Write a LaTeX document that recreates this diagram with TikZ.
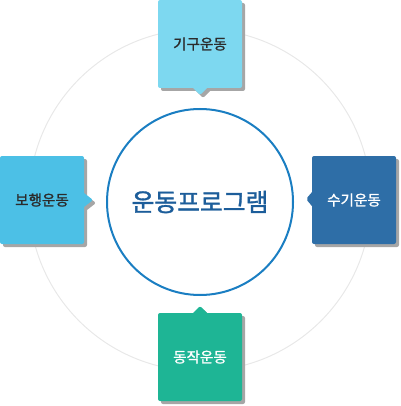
\documentclass[tikz,border=0pt]{standalone}
\usepackage{fontspec}
\setmainfont{Noto Sans CJK KR}
\newfontfamily\medfont{Noto Sans CJK KR}[FakeBold=1.3]
\usetikzlibrary{shapes.callouts,shadows}

\definecolor{ringgray}{HTML}{E8E8E8}
\definecolor{ringblue}{HTML}{1A7EC2}
\definecolor{titleblue}{HTML}{1C5D9A}
\definecolor{shadowgray}{HTML}{A6A6A6}
\definecolor{textdark}{HTML}{2B2B2B}
\definecolor{giguc}{HTML}{7DD8F0}
\definecolor{bohaengc}{HTML}{4CC0E6}
\definecolor{sugic}{HTML}{2E6EA7}
\definecolor{dongjakc}{HTML}{1EB595}

\tikzset{
  progbox/.style={rectangle callout, rounded corners=2pt,
    minimum width=84pt, minimum height=88pt, inner sep=0pt,
    callout pointer width=14pt,
    font=\medfont\fontsize{14.6}{17}\selectfont,
    drop shadow={shadow xshift=3pt, shadow yshift=-3pt, fill=shadowgray, opacity=1}},
}

\begin{document}
\begin{tikzpicture}[x=1pt,y=-1pt]
  \useasboundingbox (0,0) rectangle (400,406);

  % outer guide ring
  \draw[ringgray, line width=1pt] (200,200) circle (171);

  % the four programme boxes
  \foreach \nm/\cx/\cy/\px/\py/\col/\tcol/\txt in {
    gigu/200/44/200/95/giguc/textdark/기구운동,
    bohaeng/42/200/93/200/bohaengc/textdark/보행운동,
    sugi/354/200/306/199/sugic/white/수기운동,
    dongjak/200/357/200/306/dongjakc/white/동작운동}
  {
    \node[progbox, fill=\col, text=\tcol, callout absolute pointer={(\px,\py)}]
      (\nm) at (\cx,\cy) {\txt};
  }

  % centre circle
  \node[circle, draw=ringblue, fill=white, line width=2pt, minimum size=186pt,
    inner sep=0pt, text=titleblue, font=\medfont\fontsize{24.8}{28}\selectfont]
    (prog) at (200,202) {운동프로그램};
\end{tikzpicture}
\end{document}
